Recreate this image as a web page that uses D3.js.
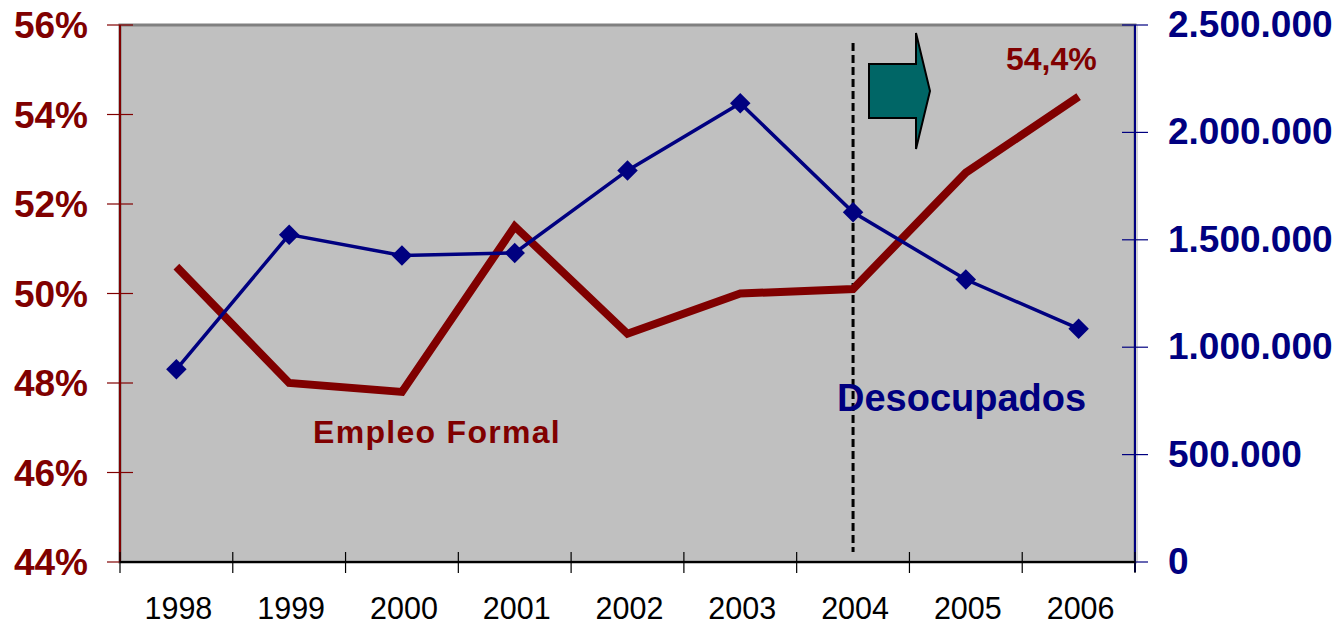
<!DOCTYPE html>
<html>
<head>
<meta charset="utf-8">
<script src="https://cdnjs.cloudflare.com/ajax/libs/d3/7.8.5/d3.min.js"></script>
<style>
    body { margin: 0; background: #fff; }
    svg { display: block; font-family: "Liberation Sans", Arial, sans-serif; }
</style>
</head>
<body>
<div id="chart"></div>
<script>

// data
var years = ["1998", "1999", "2000", "2001", "2002", "2003", "2004", "2005", "2006"];
var empleoFormal = [50.6, 48.0, 47.8, 51.5, 49.1, 50.0, 50.1, 52.7, 54.4];   // % (left axis)
var desocupados = [897000, 1524000, 1427000, 1439000, 1823000, 2136000, 1628000, 1315000, 1086000]; // (right axis)
var leftTicks = [44, 46, 48, 50, 52, 54, 56];
var rightTicks = [0, 500000, 1000000, 1500000, 2000000, 2500000];
var markYear = "2004";

var RED = "#800000",
    NAVY = "#000080";

// spanish number format: 2.500.000 and 54,4%
var es = d3.formatLocale({decimal: ",", thousands: ".", grouping: [3], currency: ["", ""]});
var fmtNum = es.format(",");
var fmtPct = es.format(".0%");
var fmtPct1 = es.format(".1%");

var width = 1337, height = 626;
var plot = {left: 120, right: 1135, top: 25, bottom: 562};

var svg = d3.select("#chart").append("svg")
    .attr("width", width)
    .attr("height", height);

// scales
var x = d3.scaleBand()
    .domain(years)
    .range([plot.left, plot.right])
    .padding(0);

var yLeft = d3.scaleLinear()
    .domain([44, 56])
    .range([plot.bottom, plot.top]);

var yRight = d3.scaleLinear()
    .domain([0, 2500000])
    .range([plot.bottom, plot.top]);

function cx(d) { return x(d) + x.bandwidth() / 2; }

// plot area
svg.append("rect")
    .attr("x", plot.left)
    .attr("y", plot.top)
    .attr("width", plot.right - plot.left)
    .attr("height", plot.bottom - plot.top)
    .attr("fill", "#c0c0c0")
    .attr("stroke", "#808080")
    .attr("stroke-width", 3);

// light edge right of the plot
svg.append("line")
    .attr("x1", plot.right + 2).attr("x2", plot.right + 2)
    .attr("y1", plot.top).attr("y2", plot.bottom)
    .attr("stroke", "#d4d4d4")
    .attr("stroke-width", 2);

// left axis
var gLeft = svg.append("g");
gLeft.append("line")
    .attr("x1", plot.left).attr("x2", plot.left)
    .attr("y1", plot.top).attr("y2", plot.bottom)
    .attr("stroke", RED).attr("stroke-width", 2);
gLeft.selectAll(".tick").data(leftTicks).enter().append("line")
    .attr("x1", plot.left - 13).attr("x2", plot.left + 13)
    .attr("y1", function(d) { return yLeft(d); })
    .attr("y2", function(d) { return yLeft(d); })
    .attr("stroke", RED).attr("stroke-width", 1.2);
gLeft.selectAll(".lbl").data(leftTicks).enter().append("text")
    .attr("x", plot.left - 32)
    .attr("y", function(d) { return yLeft(d) + 13; })
    .attr("text-anchor", "end")
    .attr("font-size", 37)
    .attr("font-weight", "bold")
    .attr("fill", RED)
    .text(function(d) { return fmtPct(d / 100); });

// right axis
var gRight = svg.append("g");
gRight.append("line")
    .attr("x1", plot.right).attr("x2", plot.right)
    .attr("y1", plot.top).attr("y2", plot.bottom + 10)
    .attr("stroke", NAVY).attr("stroke-width", 2);
gRight.selectAll(".tick").data(rightTicks).enter().append("line")
    .attr("x1", plot.right - 13).attr("x2", plot.right + 13)
    .attr("y1", function(d) { return yRight(d); })
    .attr("y2", function(d) { return yRight(d); })
    .attr("stroke", NAVY).attr("stroke-width", 1.2);
gRight.selectAll(".lbl").data(rightTicks).enter().append("text")
    .attr("x", plot.right + 33)
    .attr("y", function(d) { return yRight(d) + 12; })
    .attr("font-size", 37)
    .attr("font-weight", "bold")
    .attr("fill", NAVY)
    .text(function(d) { return fmtNum(d); });

// bottom axis, ticks sit between the categories
var gBottom = svg.append("g");
gBottom.append("line")
    .attr("x1", plot.left).attr("x2", plot.right)
    .attr("y1", plot.bottom).attr("y2", plot.bottom)
    .attr("stroke", "#000").attr("stroke-width", 2);
var edges = years.map(function(d) { return x(d); }).concat([plot.right]);
gBottom.selectAll(".tick").data(edges).enter().append("line")
    .attr("x1", function(d) { return d; })
    .attr("x2", function(d) { return d; })
    .attr("y1", plot.bottom - 10).attr("y2", plot.bottom + 11)
    .attr("stroke", "#000").attr("stroke-width", 1.2);
gBottom.selectAll(".lbl").data(years).enter().append("text")
    .attr("x", function(d) { return cx(d) + 2; })
    .attr("y", 619)
    .attr("text-anchor", "middle")
    .attr("font-size", 30.5)
    .attr("fill", "#000")
    .text(function(d) { return d; });

// dashed marker at 2004
svg.append("line")
    .attr("x1", cx(markYear)).attr("x2", cx(markYear))
    .attr("y1", 43).attr("y2", 552)
    .attr("stroke", "#000")
    .attr("stroke-width", 3)
    .attr("stroke-dasharray", "8,4");

// block arrow
svg.append("path")
    .attr("d", "M869,64 H916 V33 L930,91 L916,149 V118 H869 Z")
    .attr("fill", "#006666")
    .attr("stroke", "#000")
    .attr("stroke-width", 2)
    .attr("stroke-linejoin", "miter");

// empleo formal line
var lineLeft = d3.line()
    .x(function(d, i) { return cx(years[i]); })
    .y(function(d) { return yLeft(d); });

svg.append("path")
    .datum(empleoFormal)
    .attr("d", lineLeft)
    .attr("fill", "none")
    .attr("stroke", RED)
    .attr("stroke-width", 8)
    .attr("stroke-linejoin", "miter");

// desocupados line with diamonds
var lineRight = d3.line()
    .x(function(d, i) { return cx(years[i]); })
    .y(function(d) { return yRight(d); });

svg.append("path")
    .datum(desocupados)
    .attr("d", lineRight)
    .attr("fill", "none")
    .attr("stroke", NAVY)
    .attr("stroke-width", 3.5);

svg.selectAll(".marker").data(desocupados).enter().append("path")
    .attr("d", d3.symbol().type(d3.symbolSquare).size(210))
    .attr("transform", function(d, i) {
        return "translate(" + cx(years[i]) + "," + yRight(d) + ") rotate(45)";
    })
    .attr("fill", NAVY);

// labels
svg.append("text")
    .attr("x", 313)
    .attr("y", 443)
    .attr("font-size", 32)
    .attr("font-weight", "bold")
    .attr("letter-spacing", 1.3)
    .attr("fill", RED)
    .text("Empleo Formal");

svg.append("text")
    .attr("x", 837)
    .attr("y", 411)
    .attr("font-size", 38)
    .attr("font-weight", "bold")
    .attr("fill", NAVY)
    .text("Desocupados");

svg.append("text")
    .attr("x", 1006)
    .attr("y", 70)
    .attr("font-size", 32)
    .attr("font-weight", "bold")
    .attr("fill", RED)
    .text(fmtPct1(empleoFormal[empleoFormal.length - 1] / 100));

</script>
</body>
</html>
